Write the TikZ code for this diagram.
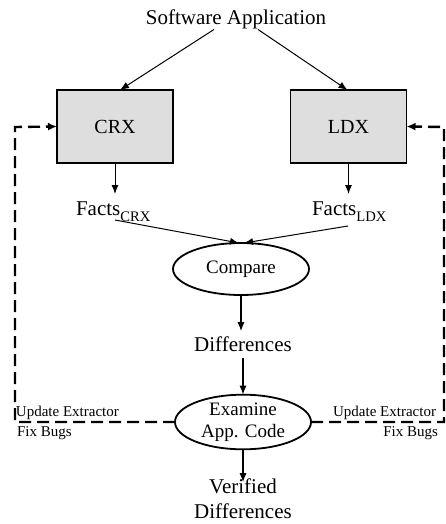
\documentclass[tikz,border=0pt]{standalone}
\usepackage{fontspec}
\setmainfont{Liberation Serif}
\usetikzlibrary{shapes.geometric,arrows.meta}
\begin{document}
\begin{tikzpicture}[x=1pt,y=-1pt,
  every node/.style={inner sep=0pt,outer sep=0pt},
  big/.style={font=\fontsize{21}{25}\selectfont},
  proc/.style={draw,line width=1.8pt,fill=black!13,minimum width=116pt,minimum height=73pt,font=\fontsize{20}{24}\selectfont},
  oval/.style={draw,ellipse,line width=1.8pt,minimum width=136pt,minimum height=52pt,align=center,font=\fontsize{19}{22}\selectfont},
  lbl/.style={font=\fontsize{15}{18}\selectfont},
  arr/.style={line width=1pt,-{Latex[length=9pt,width=7pt]}},
  fb/.style={line width=2.4pt,dash pattern=on 12pt off 6pt,-{Latex[length=9pt,width=8pt]}}
]
\useasboundingbox (0,0) rectangle (446,524);
\node[big,anchor=base] (sw) at (236,25) {Software Application};
\node[proc] (crx) at (115,126.5) {CRX};
\node[proc] (ldx) at (348.5,126.5) {LDX};
\node[big,anchor=base west] (fc) at (76,215) {Facts\raisebox{-6pt}{\fontsize{14.6}{16}\selectfont CRX}};
\node[big,anchor=base west] (fl) at (312,215) {Facts\raisebox{-6pt}{\fontsize{14.6}{16}\selectfont LDX}};
\node[oval] (cmp) at (241,269) {Compare};
\node[big,anchor=base] (dif) at (243,351) {Differences};
\node[oval] (exa) at (243,422) {Examine\\App. Code};
\node[big,align=center,anchor=base] (ver) at (243,518) {Verified\\Differences};
\node[lbl,anchor=base west] (ul) at (16,416) {Update Extractor};
\node[lbl,anchor=base west] (fl1) at (17,436) {Fix Bugs};
\node[lbl,anchor=base east] (ur) at (436,416) {Update Extractor};
\node[lbl,anchor=base east] (fr1) at (438,436) {Fix Bugs};
\coordinate (l1) at (15,422);
\coordinate (l2) at (15,127);
\coordinate (r1) at (444,422);
\coordinate (r2) at (444,127);
\draw[arr] ([xshift=-22pt]sw.south) -- ([xshift=5pt]crx.north);
\draw[arr] ([xshift=22pt]sw.south) -- ([xshift=-1pt]ldx.north);
\draw[arr] (crx.south) -- ++(0,31);
\draw[arr] (ldx.south) -- ++(0,31);
\draw[arr] ([xshift=39pt,yshift=-5pt]fc.base west) -- ([xshift=-2pt]cmp.north);
\draw[arr] ([xshift=36pt,yshift=-11pt]fl.base west) -- ([xshift=3pt]cmp.north);
\draw[arr,line width=1.2pt] (cmp.south) -- ([xshift=-2pt,yshift=5pt]dif.north);
\draw[arr,line width=1.2pt] ([yshift=-7pt]dif.south) -- (exa.north);
\draw[arr,line width=1.2pt] (exa.south) -- ([yshift=-4pt]ver.north);
\draw[fb] (exa.west) -- (l1) -- (l2) -- (crx.west);
\draw[fb] (exa.east) -- (r1) -- (r2) -- (ldx.east);
\end{tikzpicture}
\end{document}
